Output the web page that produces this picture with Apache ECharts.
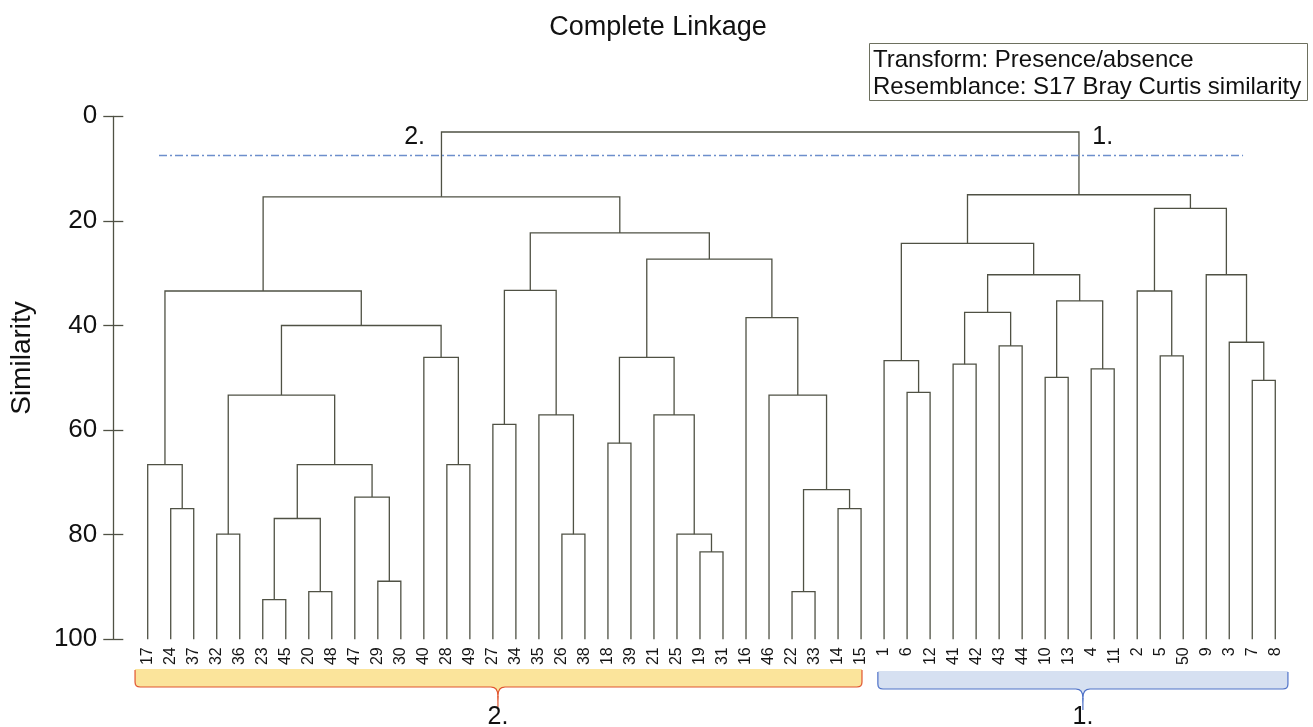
<!DOCTYPE html>
<html>
<head>
<meta charset="utf-8">
<script src="https://cdn.jsdelivr.net/npm/echarts/dist/echarts.min.js"></script>
<style>html,body{margin:0;padding:0;background:#fff}#c{width:1313px;height:727px}</style>
</head>
<body>
<div id="c"></div>
<script>
// ---------- data ----------
const leaves = ['17','24','37','32','36','23','45','20','48','47','29','30','40','28','49','27','34','35','26','38','18','39','21','25','19','31','16','46','22','33','14','15',
                '1','6','12','41','42','43','44','10','13','4','11','2','5','50','9','3','7','8'];
// linkage: [child A, child B, similarity level]; ids < 50 are leaves (by position), new cluster ids start at 50
const merges = [
  [1,2,75.0],[0,50,66.6],[3,4,79.9],[5,6,92.4],[7,8,90.9],[53,54,76.9],[10,11,88.9],[9,56,72.8],
  [55,57,66.6],[52,58,53.3],[13,14,66.6],[12,60,46.1],[59,61,40.0],[51,62,33.4],
  [15,16,58.9],[18,19,79.9],[17,65,57.1],[64,66,33.3],[20,21,62.5],[24,25,83.3],[23,69,79.9],
  [22,70,57.1],[68,71,46.1],[28,29,90.9],[30,31,75.0],[73,74,71.4],[27,75,53.3],[26,76,38.5],
  [72,77,27.3],[67,78,22.3],[63,79,15.4],
  [33,34,52.8],[32,81,46.7],[35,36,47.4],[37,38,43.9],[83,84,37.5],[39,40,49.9],[41,42,48.3],
  [86,87,35.3],[85,88,30.3],[82,89,24.3],[44,45,45.8],[43,91,33.4],[48,49,50.5],[47,93,43.2],
  [46,94,30.3],[92,95,17.6],[90,96,15.0],
  [80,97,3.0]
];
const yTicks = [0, 20, 40, 60, 80, 100];
const cutLevel = 7.5;
const cutFrom = 0.49, cutTo = 47.6;
// groups: name, from (leaf pos), to (leaf pos), pointer (leaf pos)
const groupNames = ['2.', '1.'];
const groupFrom = [-0.55, 31.73];
const groupTo = [31.04, 49.55];
const groupTip = [15.22, 40.64];
const groupTopLabelX = [11.6, 41.5];
const groupTopLabelY = [4.05, 3.95];

// ---------- build segments from linkage ----------
const nodeX = leaves.map((_, i) => i);
const nodeH = leaves.map(() => 100);
const segs = [];
merges.forEach(([a, b, h]) => {
  segs.push([nodeX[a], nodeH[a], nodeX[b], nodeH[b], h]);
  nodeX.push((nodeX[a] + nodeX[b]) / 2);
  nodeH.push(h);
});

const FONT = '"Liberation Sans", Arial, Helvetica, sans-serif';
const LINE = '#4f5144';

const chart = echarts.init(document.getElementById('c'), null, {renderer: 'canvas'});
const GL = 124.69, GW = 1173.6, GT = 116.3, GB = 87.7;

const option = {
  animation: false,
  backgroundColor: '#ffffff',
  grid: {left: GL, width: GW, top: GT, bottom: GB, containLabel: false},
  xAxis: {
    type: 'value', min: -1, max: 50, interval: 1,
    axisLine: {show: false, onZero: false}, axisTick: {show: false}, splitLine: {show: false},
    axisLabel: {
      rotate: 90, margin: 8, fontSize: 16, color: '#151515', fontFamily: FONT,
      formatter: v => (leaves[v] !== undefined ? leaves[v] : '')
    }
  },
  yAxis: [
    {
      type: 'value', inverse: true, min: 0, max: 100, interval: 20, position: 'left', offset: 11.4,
      axisLine: {show: true, onZero: false, lineStyle: {color: LINE, width: 1.3}},
      axisTick: {show: true, length: 10, lineStyle: {color: LINE, width: 1.3}},
      axisLabel: {fontSize: 26, color: '#111', margin: 16, fontFamily: FONT,
        formatter: v => (yTicks.indexOf(v) >= 0 ? String(v) : '')},
      splitLine: {show: false}
    },
    {
      type: 'value', inverse: true, min: 0, max: 100, interval: 20, position: 'left', offset: 11.4,
      axisLine: {show: false, onZero: false},
      axisTick: {show: true, inside: true, length: 10, lineStyle: {color: LINE, width: 1.3}},
      axisLabel: {show: false}, splitLine: {show: false}
    }
  ],
  series: [
    {
      type: 'custom', silent: true, clip: false,
      data: segs,
      encode: {x: [0, 2], y: [1, 3, 4]},
      renderItem: (params, api) => {
        const p1 = api.coord([api.value(0), api.value(1)]);
        const p2 = api.coord([api.value(0), api.value(4)]);
        const p3 = api.coord([api.value(2), api.value(4)]);
        const p4 = api.coord([api.value(2), api.value(3)]);
        return {type: 'polyline', shape: {points: [p1, p2, p3, p4]},
          style: {stroke: LINE, lineWidth: 1.3, fill: null}};
      }
    },
    {
      type: 'line', silent: true, symbol: 'none',
      data: [[cutFrom, cutLevel], [cutTo, cutLevel]],
      lineStyle: {color: '#6d8fcc', width: 1.4, type: [8, 3, 2, 3]}
    }
  ]
};
chart.setOption(option);

// ---------- annotations ----------
function px(x, y) { return chart.convertToPixel({gridIndex: 0}, [x, y]); }
function txt(x, y, text, size, extra) {
  return {
    type: 'text', x: x, y: y, silent: true,
    style: Object.assign({text: text, fontSize: size, fontFamily: FONT, fill: '#111',
      align: 'center', verticalAlign: 'middle', textAlign: 'center', textVerticalAlign: 'middle'}, extra || {})
  };
}
function quad(p0, c, p1, n) {
  const pts = [];
  for (let i = 1; i <= n; i++) {
    const t = i / n;
    pts.push([(1-t)*(1-t)*p0[0] + 2*(1-t)*t*c[0] + t*t*p1[0], (1-t)*(1-t)*p0[1] + 2*(1-t)*t*c[1] + t*t*p1[1]]);
  }
  return pts;
}
const braceStyle = [
  {fill: '#fbe49b', stroke: '#e0552f'},
  {fill: '#d6e0f1', stroke: '#4f72c8'}
];
const braceTop = [669, 671];
const braceBot = [687, 689];
const braceTipEnd = [707, 710];
const graphics = [];
groupNames.forEach((name, g) => {
  const L = px(groupFrom[g], 100)[0];
  const R = px(groupTo[g], 100)[0];
  const C = px(groupTip[g], 100)[0];
  const T = braceTop[g], B = braceBot[g], r = 5;
  let edge = [[L, T + 1], [L, B - r]];
  edge = edge.concat(quad([L, B - r], [L, B], [L + r, B], 4));
  edge.push([C - 7, B]);
  edge = edge.concat(quad([C - 7, B], [C, B], [C, B + 9], 4));
  edge = edge.concat(quad([C, B + 9], [C, B], [C + 7, B], 4));
  edge.push([R - r, B]);
  edge = edge.concat(quad([R - r, B], [R, B], [R, B - r], 4));
  edge.push([R, T + 1]);
  const fillPts = [[L, T]].concat(edge).concat([[R, T]]);
  graphics.push({type: 'polygon', silent: true, shape: {points: fillPts}, style: {fill: braceStyle[g].fill, stroke: null}});
  graphics.push({type: 'polyline', silent: true, shape: {points: edge}, style: {stroke: braceStyle[g].stroke, lineWidth: 1.2, fill: null}});
  graphics.push({type: 'line', silent: true, shape: {x1: C, y1: B + 9, x2: C, y2: braceTipEnd[g]}, style: {stroke: braceStyle[g].stroke, lineWidth: 1.2}});
  graphics.push(txt(C, 717, name, 25));
  const tp = px(groupTopLabelX[g], groupTopLabelY[g]);
  graphics.push(txt(tp[0], tp[1], name, 25));
});
graphics.push(txt(658, 28, 'Complete Linkage', 27));
graphics.push(Object.assign(txt(22, 358, 'Similarity', 28), {rotation: Math.PI / 2}));
graphics.push({type: 'rect', silent: true, shape: {x: 869.5, y: 43.5, width: 438, height: 57},
  style: {fill: '#ffffff', stroke: '#6d705f', lineWidth: 1}});
graphics.push(txt(873, 60, 'Transform: Presence/absence', 24, {align: 'left', textAlign: 'left'}));
graphics.push(txt(873, 87, 'Resemblance: S17 Bray Curtis similarity', 24, {align: 'left', textAlign: 'left'}));
chart.setOption({graphic: {elements: graphics}});
</script>
</body>
</html>
